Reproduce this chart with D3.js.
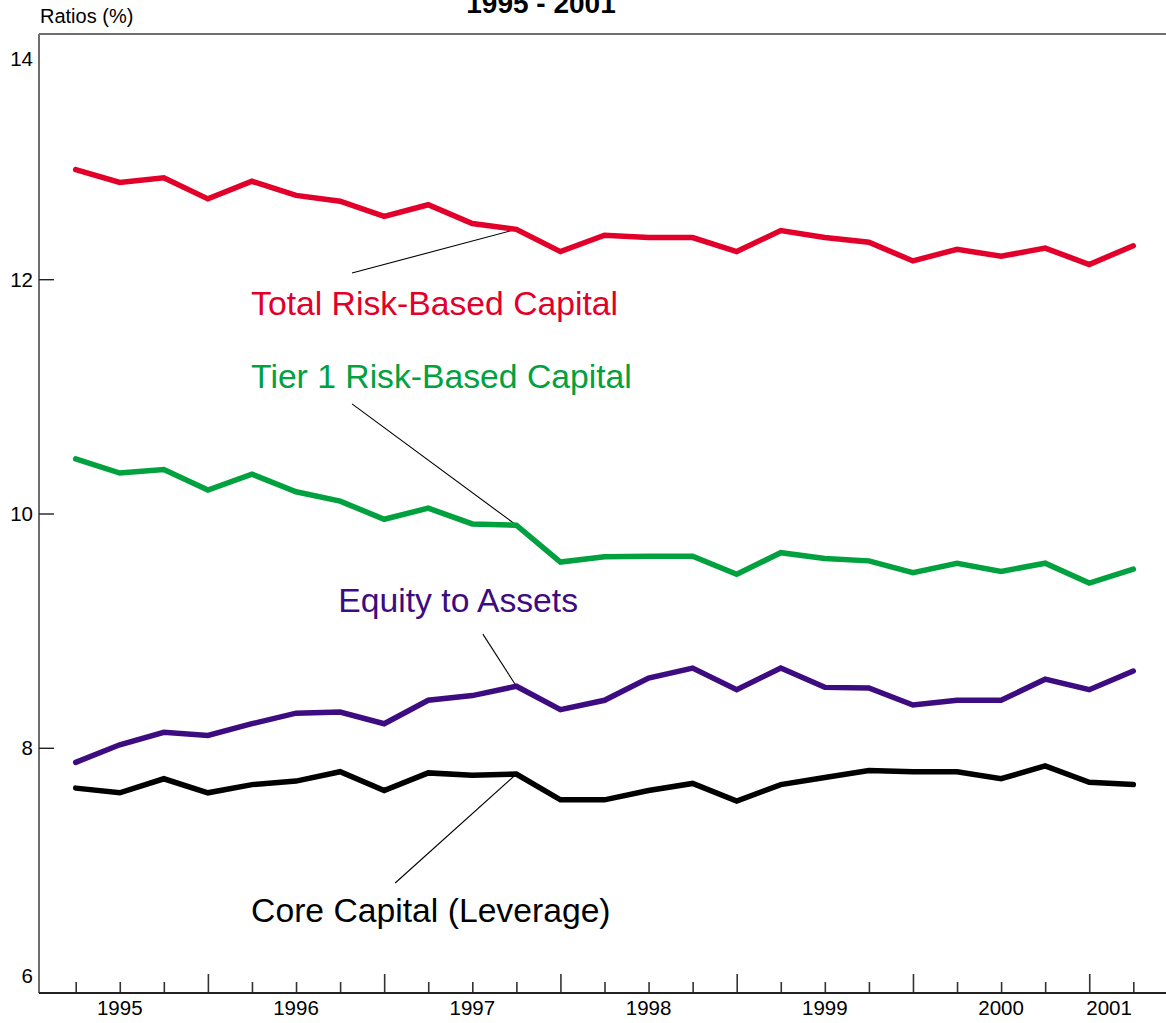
<!DOCTYPE html>
<html>
<head>
<meta charset="utf-8">
<script src="https://cdn.jsdelivr.net/npm/d3@7"></script>
<style>
  html, body { margin: 0; padding: 0; background: #fff; }
  svg { display: block; font-family: "Liberation Sans", Arial, Helvetica, sans-serif; }
</style>
</head>
<body>
<svg id="chart" width="1166" height="1023"></svg>
<script>
// ---- data ----
const quarters = ["1995Q1","1995Q2","1995Q3","1995Q4","1996Q1","1996Q2","1996Q3","1996Q4",
  "1997Q1","1997Q2","1997Q3","1997Q4","1998Q1","1998Q2","1998Q3","1998Q4",
  "1999Q1","1999Q2","1999Q3","1999Q4","2000Q1","2000Q2","2000Q3","2000Q4","2001Q1"];
const totalRiskBased = [12.94,12.83,12.87,12.69,12.84,12.72,12.67,12.54,12.64,12.48,12.43,12.24,12.38,
  12.36,12.36,12.24,12.42,12.36,12.32,12.16,12.26,12.20,12.27,12.13,12.29];
const tier1RiskBased = [10.47,10.35,10.38,10.205,10.34,10.19,10.11,9.955,10.05,9.915,9.905,9.59,9.635,
  9.64,9.64,9.485,9.67,9.62,9.60,9.50,9.58,9.51,9.58,9.41,9.53];
const equityToAssets = [7.88,8.03,8.137,8.11,8.21,8.30,8.31,8.21,8.41,8.45,8.53,8.33,8.41,
  8.60,8.685,8.50,8.685,8.52,8.515,8.37,8.41,8.41,8.59,8.50,8.66];
const coreCapital = [7.66,7.62,7.74,7.62,7.69,7.72,7.80,7.64,7.79,7.77,7.78,7.56,7.56,
  7.64,7.70,7.55,7.69,7.75,7.81,7.80,7.80,7.74,7.85,7.71,7.69];
const yTickValues = [6, 8, 10, 12, 14];
const yearLabels = ["1995","1996","1997","1998","1999","2000","2001"];
const yearLabelPos = [1, 5, 9, 13, 17, 21, 23.45];   // in quarter index units
const seriesNames = ["Total Risk-Based Capital","Tier 1 Risk-Based Capital","Equity to Assets","Core Capital (Leverage)"];
const seriesColors = ["#E2002A","#00A13E","#3D0C80","#000000"];
// label anchor (quarter index, value) and leader line start (quarter index, value), leader end at quarter 10
const labelQ = [3.98, 3.98, 5.96, 3.98];
const labelV = [11.70, 11.075, 9.16, 6.52];
const leaderQ = [6.27, 6.27, 9.24, 7.25];
const leaderV = [12.057, 10.94, 8.975, 6.85];
const leaderToQ = 10;

const series = [totalRiskBased, tier1RiskBased, equityToAssets, coreCapital];

// ---- layout ----
const svg = d3.select("#chart");
const frameLeft = 39, frameTop = 34, frameBottom = 993, frameRight = 1166;
const x = d3.scaleLinear().domain([0, 24]).range([75.7, 1133.3]);
const y = d3.scaleLinear().domain([8, 12]).range([748.3, 279.7]);

const axisColor = "#6e6e6e";

// frame lines
svg.append("line").attr("x1", frameLeft).attr("x2", frameLeft).attr("y1", frameTop).attr("y2", frameBottom)
  .attr("stroke", axisColor).attr("stroke-width", 2);
svg.append("line").attr("x1", frameLeft).attr("x2", frameRight).attr("y1", frameTop).attr("y2", frameTop)
  .attr("stroke", axisColor).attr("stroke-width", 2);

// bottom axis with quarter ticks
const xAxis = d3.axisTop(x).tickValues(d3.range(quarters.length)).tickFormat("").tickSize(11).tickSizeOuter(0);
const gx = svg.append("g").attr("transform", `translate(0,${frameBottom})`).call(xAxis);
gx.select(".domain").remove();
gx.selectAll(".tick line")
  .attr("stroke", "#333").attr("stroke-width", 1.6)
  .attr("y2", (d) => (d + 1) % 4 === 0 ? -19 : -11);
svg.append("line").attr("x1", frameLeft).attr("x2", frameRight).attr("y1", frameBottom).attr("y2", frameBottom)
  .attr("stroke", "#222").attr("stroke-width", 2);

// year labels
svg.append("g").selectAll("text").data(yearLabels).join("text")
  .attr("x", (d, i) => x(yearLabelPos[i]))
  .attr("y", 1015)
  .attr("text-anchor", "middle")
  .attr("font-size", 20.5)
  .attr("fill", "#000")
  .text(d => d);

// y ticks (inner) for interior values
svg.append("g").selectAll("line").data(yTickValues.filter(v => v > 6 && v < 14)).join("line")
  .attr("x1", frameLeft).attr("x2", frameLeft + 15)
  .attr("y1", d => y(d)).attr("y2", d => y(d))
  .attr("stroke", "#222").attr("stroke-width", 1.4);

// y labels, clamped inside the frame
svg.append("g").selectAll("text").data(yTickValues).join("text")
  .attr("x", 33)
  .attr("y", d => Math.min(Math.max(y(d), frameTop + 25), frameBottom - 17))
  .attr("dy", "0.35em")
  .attr("text-anchor", "end")
  .attr("font-size", 20.5)
  .attr("fill", "#000")
  .text(d => d);

// axis title & chart title
svg.append("text").attr("x", 40).attr("y", 23).attr("font-size", 20).attr("fill", "#000").text("Ratios (%)");
svg.append("text").attr("x", 541).attr("y", 13).attr("text-anchor", "middle")
  .attr("font-size", 28).attr("font-weight", "bold").attr("fill", "#000").text("1995 - 2001");

// leader lines
svg.append("g").selectAll("line").data(series).join("line")
  .attr("x1", (d, i) => x(leaderQ[i])).attr("y1", (d, i) => y(leaderV[i]))
  .attr("x2", x(leaderToQ)).attr("y2", d => y(d[leaderToQ]))
  .attr("stroke", "#000").attr("stroke-width", 1.1);

// series lines
const line = d3.line().x((d, i) => x(i)).y(d => y(d));
svg.append("g").selectAll("path").data(series).join("path")
  .attr("d", d => line(d))
  .attr("fill", "none")
  .attr("stroke", (d, i) => seriesColors[i])
  .attr("stroke-width", 5.5)
  .attr("stroke-linejoin", "miter")
  .attr("stroke-linecap", "round");

// series labels
svg.append("g").selectAll("text").data(seriesNames).join("text")
  .attr("x", (d, i) => x(labelQ[i]))
  .attr("y", (d, i) => y(labelV[i]))
  .attr("font-size", 33.7)
  .attr("fill", (d, i) => seriesColors[i])
  .text(d => d);
</script>
</body>
</html>
